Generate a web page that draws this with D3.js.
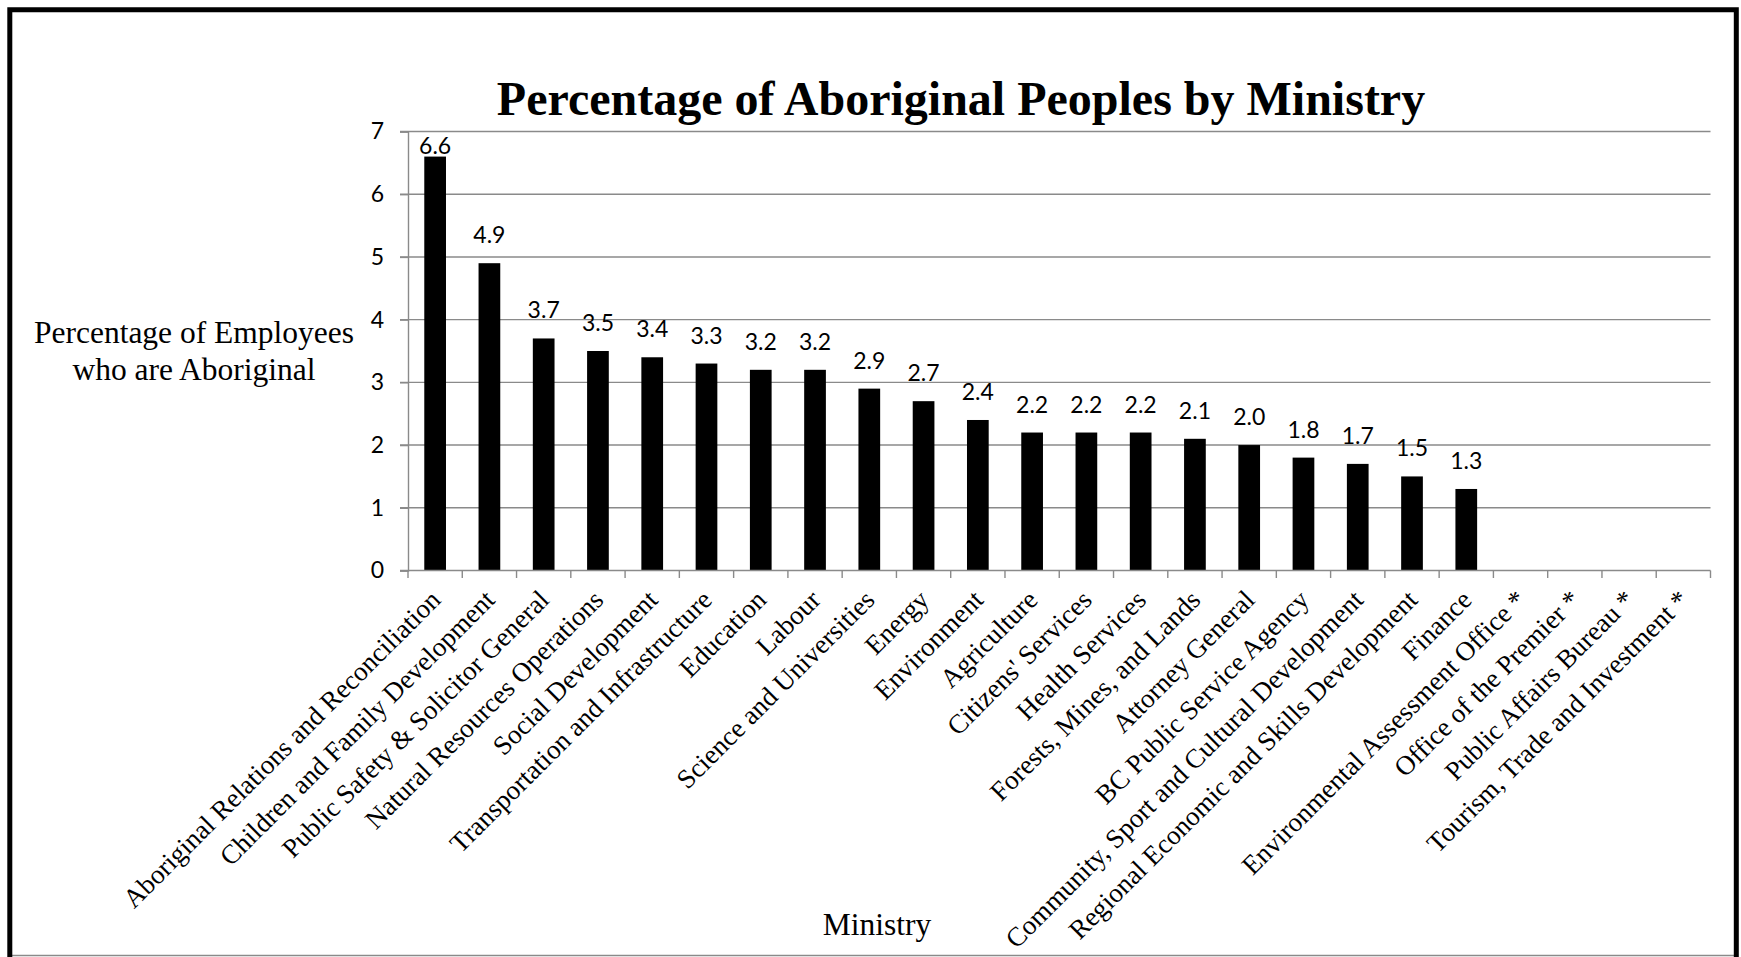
<!DOCTYPE html>
<html>
<head>
<meta charset="utf-8">
<script src="https://cdn.jsdelivr.net/npm/d3@7"></script>
<style>
  html, body { margin: 0; padding: 0; background: #fff; }
  svg { display: block; }
</style>
</head>
<body>
<script>
const categories = [
  "Aboriginal Relations and Reconciliation",
  "Children and Family Development",
  "Public Safety & Solicitor General",
  "Natural Resources Operations",
  "Social Development",
  "Transportation and Infrastructure",
  "Education",
  "Labour",
  "Science and Universities",
  "Energy",
  "Environment",
  "Agriculture",
  "Citizens' Services",
  "Health Services",
  "Forests, Mines, and Lands",
  "Attorney General",
  "BC Public Service Agency",
  "Community, Sport and Cultural Development",
  "Regional Economic and Skills Development",
  "Finance",
  "Environmental Assessment Office *",
  "Office of the Premier *",
  "Public Affairs Bureau *",
  "Tourism, Trade and Investment *"
];
const values = [6.6, 4.9, 3.7, 3.5, 3.4, 3.3, 3.2, 3.2, 2.9, 2.7, 2.4, 2.2, 2.2, 2.2, 2.1, 2.0, 1.8, 1.7, 1.5, 1.3, null, null, null, null];
const yTicks = [0, 1, 2, 3, 4, 5, 6, 7];
const titleText = "Percentage of Aboriginal Peoples by Ministry";
const yTitleLines = ["Percentage of Employees", "who are Aboriginal"];
const xTitleText = "Ministry";

const W = 1741, H = 957;
const plot = { left: 408, right: 1710.5, top: 131.5, bottom: 570.5 };
const gray = "#8a8a8a";
const serif = "'Liberation Serif', 'Times New Roman', serif";
const sans = "Lato, Carlito, Calibri, 'Open Sans', sans-serif";

const svg = d3.select("body").append("svg").attr("width", W).attr("height", H);
svg.append("rect").attr("width", W).attr("height", H).attr("fill", "#fff");

const x = d3.scaleBand().domain(categories).range([plot.left, plot.right])
  .paddingInner(0.6).paddingOuter(0.3);
const y = d3.scaleLinear().domain([0, 7]).range([plot.bottom, plot.top]);

// gridlines (with outward tick)
svg.append("g").selectAll("line").data(yTicks.filter(d => d > 0)).join("line")
  .attr("x1", plot.left - 8).attr("x2", plot.right)
  .attr("y1", d => y(d)).attr("y2", d => y(d))
  .attr("stroke", gray).attr("stroke-width", 1.4);

// y axis
const yAxis = d3.axisLeft(y).tickValues(yTicks).tickSize(8).tickPadding(16).tickFormat(d3.format("d"));
const yg = svg.append("g").attr("transform", `translate(${plot.left},0)`).call(yAxis);
yg.select(".domain").attr("stroke", gray).attr("stroke-width", 1.4);
yg.selectAll(".tick line").attr("stroke", gray).attr("stroke-width", 1.4);
yg.selectAll(".tick text").attr("font-family", sans).attr("font-size", 23).attr("fill", "#000");

// bars
svg.append("g").selectAll("rect").data(categories.map((c, i) => ({ c, v: values[i] })).filter(d => d.v != null))
  .join("rect")
  .attr("x", d => x(d.c)).attr("width", x.bandwidth())
  .attr("y", d => y(d.v)).attr("height", d => y(0) - y(d.v))
  .attr("fill", "#000");

// x axis line and boundary ticks
svg.append("line").attr("x1", plot.left - 8).attr("x2", plot.right)
  .attr("y1", y(0)).attr("y2", y(0)).attr("stroke", gray).attr("stroke-width", 1.4);
const step = x.step();
const boundaries = categories.map(c => x(c) - step * x.paddingOuter()).concat([plot.right]);
svg.append("g").selectAll("line").data(boundaries).join("line")
  .attr("x1", d => d).attr("x2", d => d)
  .attr("y1", y(0)).attr("y2", y(0) + 7.5)
  .attr("stroke", gray).attr("stroke-width", 1.4);

// x tick labels rotated
svg.append("g").selectAll("text").data(categories).join("text")
  .attr("transform", d => `translate(${x(d) + x.bandwidth() / 2 + 7},${y(0) + 31}) rotate(-45)`)
  .attr("text-anchor", "end")
  .attr("font-family", serif).attr("font-size", 27).attr("fill", "#000")
  .text(d => d);

// value labels
const fmt = d3.format(".1f");
svg.append("g").selectAll("text").data(categories.map((c, i) => ({ c, v: values[i] })).filter(d => d.v != null))
  .join("text")
  .attr("x", d => x(d.c) + x.bandwidth() / 2)
  .attr("y", d => Math.max(y(d.v) - 20, plot.top + 22))
  .attr("text-anchor", "middle")
  .attr("font-family", sans).attr("font-size", 23).attr("fill", "#000")
  .text(d => fmt(d.v));

// titles
svg.append("text").attr("x", 961).attr("y", 115).attr("text-anchor", "middle")
  .attr("font-family", serif).attr("font-weight", "bold").attr("font-size", 48).attr("fill", "#000")
  .text(titleText);

svg.append("g").selectAll("text").data(yTitleLines).join("text")
  .attr("x", 194).attr("y", (d, i) => 343 + i * 37).attr("text-anchor", "middle")
  .attr("font-family", serif).attr("font-size", 31.5).attr("fill", "#000")
  .text(d => d);

svg.append("text").attr("x", 877).attr("y", 935).attr("text-anchor", "middle")
  .attr("font-family", serif).attr("font-size", 31.5).attr("fill", "#000")
  .text(xTitleText);

// frame
svg.append("line").attr("x1", 10).attr("x2", 1736).attr("y1", 955.5).attr("y2", 955.5)
  .attr("stroke", gray).attr("stroke-width", 1.5);
svg.append("path").attr("d", `M9.8,${H + 5} L9.8,9.8 L1736.3,9.8 L1736.3,${H + 5}`)
  .attr("fill", "none").attr("stroke", "#000").attr("stroke-width", 5);
</script>
</body>
</html>
